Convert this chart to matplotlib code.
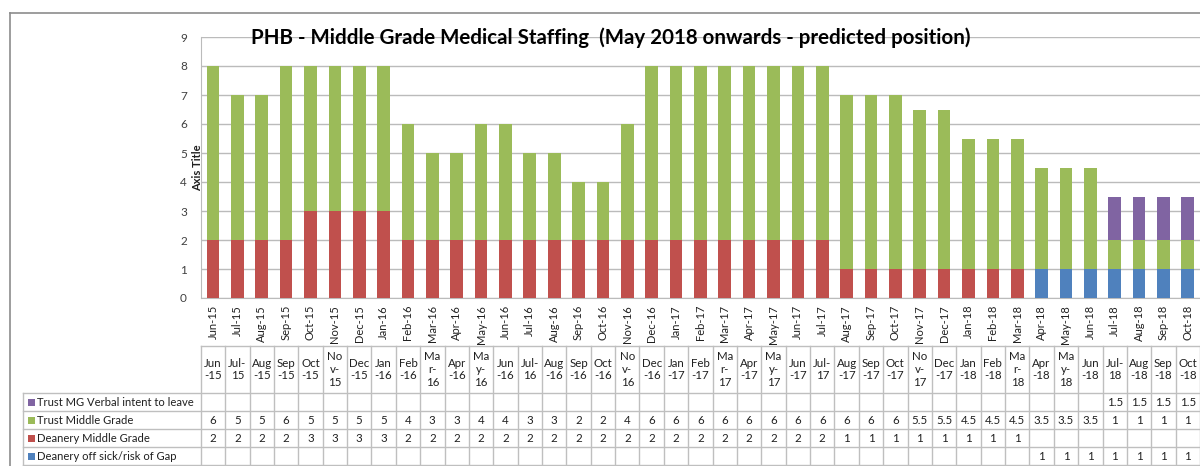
import matplotlib.pyplot as plt
import matplotlib.transforms as mtransforms
from matplotlib.lines import Line2D
from matplotlib.patches import Rectangle

plt.rcParams["font.family"] = ["Lato", "DejaVu Sans"]

# chart data
months = [
    "Jun-15", "Jul-15", "Aug-15", "Sep-15", "Oct-15", "Nov-15", "Dec-15",
    "Jan-16", "Feb-16", "Mar-16", "Apr-16", "May-16", "Jun-16", "Jul-16",
    "Aug-16", "Sep-16", "Oct-16", "Nov-16", "Dec-16", "Jan-17", "Feb-17",
    "Mar-17", "Apr-17", "May-17", "Jun-17", "Jul-17", "Aug-17", "Sep-17",
    "Oct-17", "Nov-17", "Dec-17", "Jan-18", "Feb-18", "Mar-18", "Apr-18",
    "May-18", "Jun-18", "Jul-18", "Aug-18", "Sep-18", "Oct-18",
]
trust_verbal = [
    None, None, None, None, None, None, None, None, None, None,
    None, None, None, None, None, None, None, None, None, None,
    None, None, None, None, None, None, None, None, None, None,
    None, None, None, None, None, None, None, 1.5, 1.5, 1.5, 1.5,
]
trust_mg = [
    6, 5, 5, 6, 5, 5, 5, 5, 4, 3,
    3, 4, 4, 3, 3, 2, 2, 4, 6, 6,
    6, 6, 6, 6, 6, 6, 6, 6, 6, 5.5,
    5.5, 4.5, 4.5, 4.5, 3.5, 3.5, 3.5, 1, 1, 1, 1,
]
deanery_mg = [
    2, 2, 2, 2, 3, 3, 3, 3, 2, 2,
    2, 2, 2, 2, 2, 2, 2, 2, 2, 2,
    2, 2, 2, 2, 2, 2, 1, 1, 1, 1,
    1, 1, 1, 1, None, None, None, None, None, None, None,
]
deanery_sick = [
    None, None, None, None, None, None, None, None, None, None,
    None, None, None, None, None, None, None, None, None, None,
    None, None, None, None, None, None, None, None, None, None,
    None, None, None, None, 1, 1, 1, 1, 1, 1, 1,
]
y_ticks = [0, 1, 2, 3, 4, 5, 6, 7, 8, 9]

title = "PHB - Middle Grade Medical Staffing  (May 2018 onwards - predicted position)"

W, H = 1200, 466


def fy(px):
    """pixel row (from top) -> figure fraction"""
    return 1 - px / H


def fx(px):
    return px / W


def wrap_month(label):
    # narrow excel table cells wrap the month labels
    mon, yr = label.split("-")
    if mon in ("Nov", "Mar", "May"):
        return f"{mon[:2]}\n{mon[2]}-\n{yr}"
    if mon == "Jul":
        return f"{mon}-\n{yr}"
    return f"{mon}\n-{yr}"


def plot_staffing():
    fig = plt.figure(figsize=(12, 4.66), dpi=100)
    ax = fig.add_axes([fx(200.8), fy(298), 1 - fx(200.8), fy(37) - fy(298)])

    # 1. stacked bars (bottom to top like the excel chart)
    series = [
        ("Deanery off sick/risk of Gap", deanery_sick, "#4F81BD"),
        ("Deanery Middle Grade", deanery_mg, "#C0504D"),
        ("Trust Middle Grade", trust_mg, "#9BBB59"),
        ("Trust MG Verbal intent to leave", trust_verbal, "#8064A2"),
    ]
    x = list(range(len(months)))
    bottom = [0] * len(months)
    for name, vals, color in series:
        heights = [v if v is not None else 0 for v in vals]
        ax.bar(x, heights, width=0.52, bottom=bottom, color=color, zorder=3, label=name)
        bottom = [b + h for b, h in zip(bottom, heights)]

    # 2. axes styling
    ax.set_xlim(-0.5, len(months) - 0.5)
    ax.set_ylim(0, 9)
    ax.set_yticks(y_ticks)
    ax.tick_params(axis="y", length=0, pad=10, labelsize=8.5, labelcolor="#404040")
    ax.set_xticks(x)
    ax.set_xticklabels(months, rotation=90, fontsize=8, color="#202020")
    ax.tick_params(axis="x", length=0, pad=5)
    ax.grid(axis="y", color="#BBBBBB", linewidth=1, zorder=0)
    for side in ["top", "right"]:
        ax.spines[side].set_visible(False)
    ax.spines["left"].set_color("#BBBBBB")
    ax.spines["bottom"].set_color("#BBBBBB")

    fig.text(fx(198), fy(168), "Axis Title", rotation=90, ha="center", va="center",
             fontsize=8, fontweight="bold", color="#202020")
    fig.text(fx(611), fy(38), title, ha="center", va="center",
             fontsize=14.8, fontweight="bold", color="#000000")

    # 3. outer chart border
    border = "#8C8C8C"
    fig.add_artist(Line2D([fx(10), 1], [fy(13), fy(13)], color=border, linewidth=1.2))
    fig.add_artist(Line2D([fx(10), fx(10)], [fy(13), 0], color=border, linewidth=1.2))

    # 4. data table under the chart
    trans = mtransforms.blended_transform_factory(ax.transData, fig.transFigure)
    grid_c = "#BFBFBF"
    head_top, head_bot = 346, 393
    row_edges = [393, 411, 429, 447, 465]
    ncol = len(months)

    # horizontal lines
    fig.add_artist(Line2D([fx(200.8), 1], [fy(head_top), fy(head_top)], color=grid_c, linewidth=1))
    for r in row_edges:
        fig.add_artist(Line2D([fx(23), 1], [fy(r), fy(r)], color=grid_c, linewidth=1))
    fig.add_artist(Line2D([fx(23), fx(23)], [fy(393), fy(465)], color=grid_c, linewidth=1))
    # vertical lines between the month columns
    for i in range(ncol + 1):
        ax.add_artist(Line2D([i - 0.5, i - 0.5], [fy(head_top), fy(465)], transform=trans,
                             color=grid_c, linewidth=1, clip_on=False))

    # header row
    for i, m in enumerate(months):
        ax.text(i, fy((head_top + head_bot) / 2), wrap_month(m), transform=trans,
                ha="center", va="center", fontsize=8.3, color="#202020",
                linespacing=1.2, clip_on=False)

    # value rows, top row is the top of the stack
    for r, (name, vals, color) in enumerate(reversed(series)):
        yc = fy((row_edges[r] + row_edges[r + 1]) / 2)
        fig.add_artist(Rectangle((fx(28), yc - 3.5 / H), 7 / W, 7 / H,
                                 facecolor=color, edgecolor="none",
                                 transform=fig.transFigure))
        fig.text(fx(37), yc, name, ha="left", va="center", fontsize=8.15, color="#202020")
        for i, v in enumerate(vals):
            if v is None:
                continue
            ax.text(i, yc, f"{v:g}", transform=trans, ha="center", va="center",
                    fontsize=8.3, color="#202020", clip_on=False)

    fig.savefig("out.png", dpi=100)


if __name__ == "__main__":
    plot_staffing()
